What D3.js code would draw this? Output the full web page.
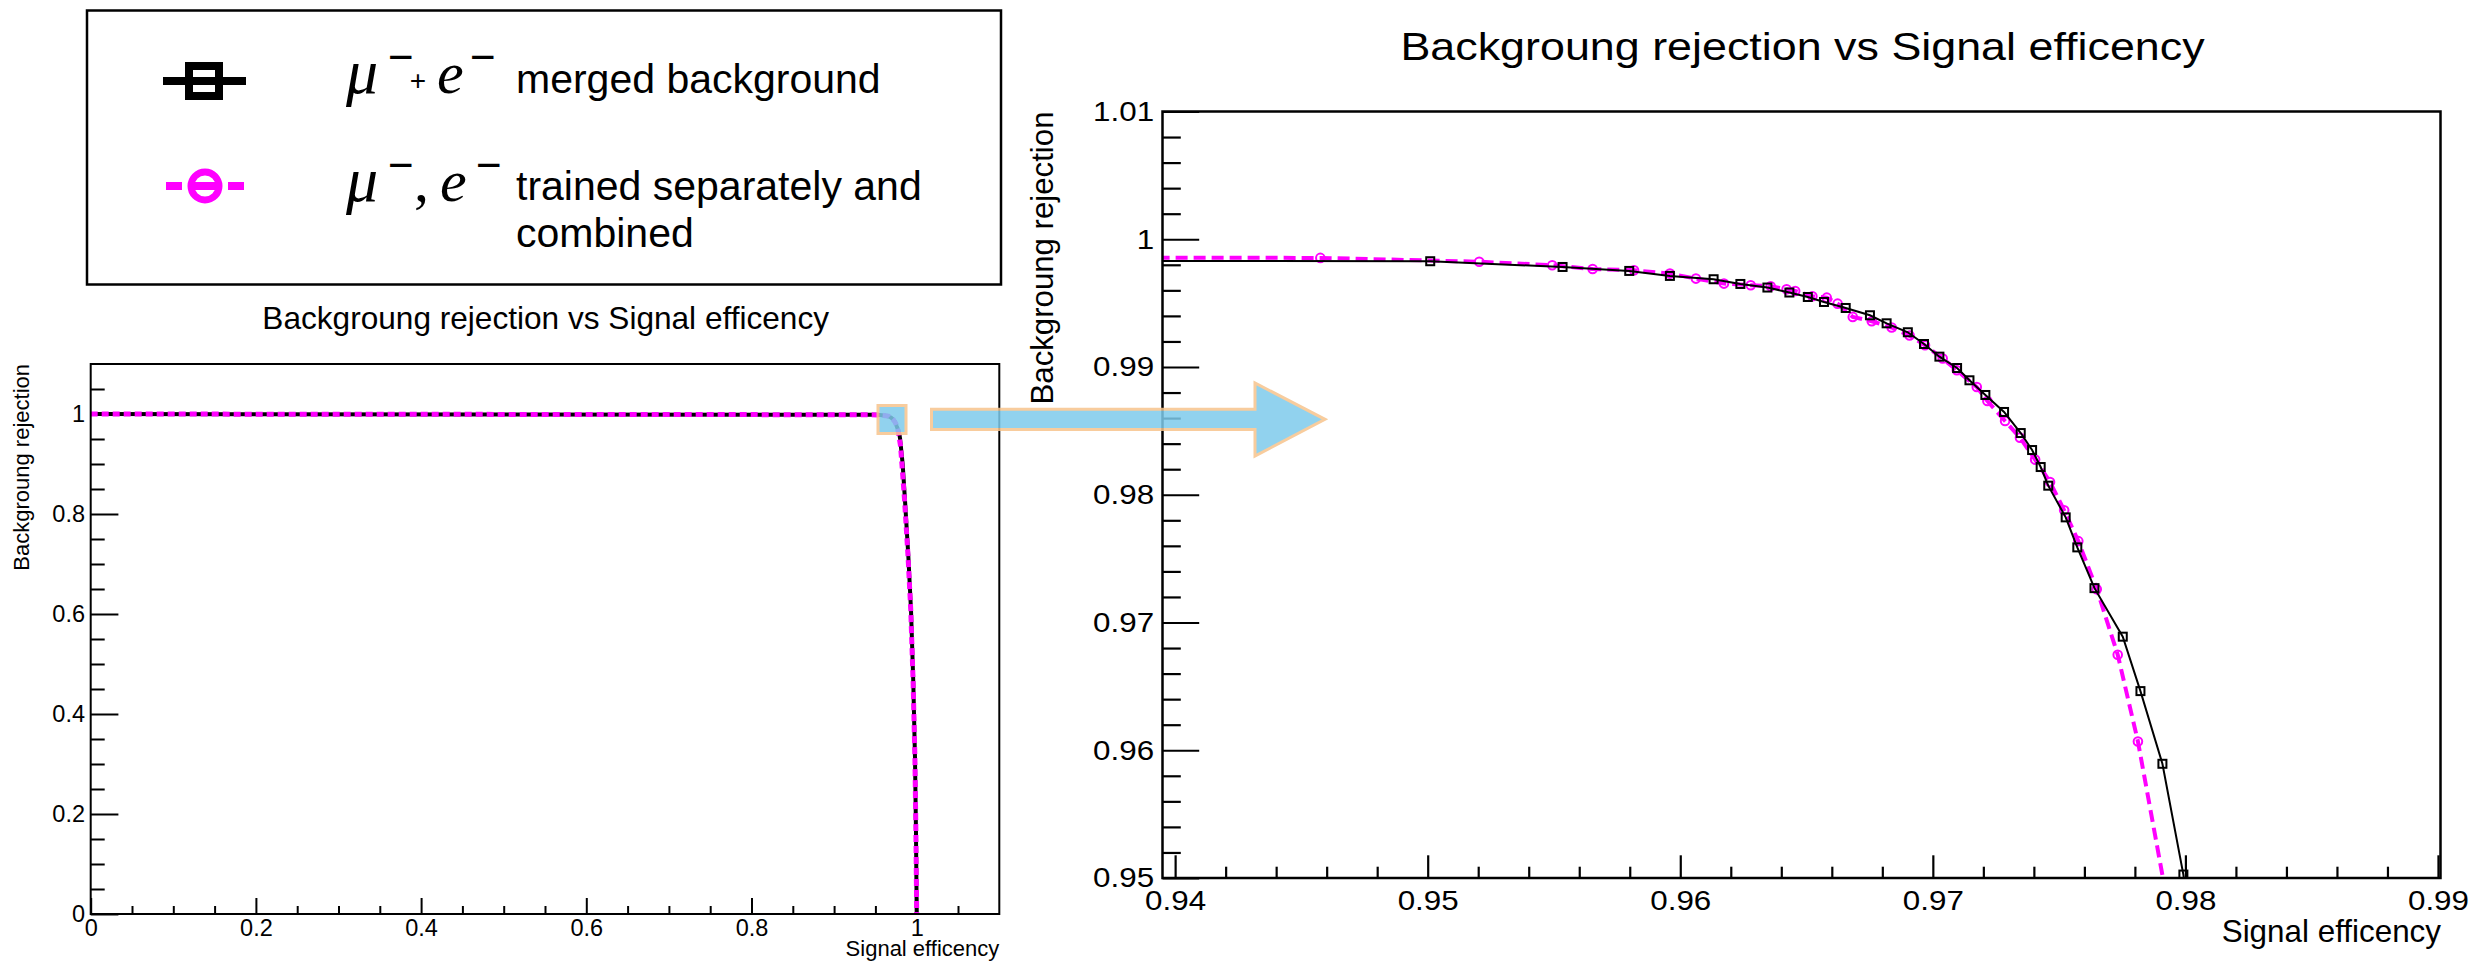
<!DOCTYPE html>
<html><head><meta charset="utf-8">
<script src="https://cdn.jsdelivr.net/npm/d3@7"></script>
<style>
body{margin:0;background:#fff}
svg{display:block}
text{fill:#000}
</style>
</head><body>
<svg id="c" width="2476" height="964" font-family="Liberation Sans, Arial, Helvetica, sans-serif"></svg>
<script>
// ---------------- data ----------------
const mergedEff = [0, 0.9501, 0.95534, 0.95798, 0.95959, 0.96132, 0.96238, 0.96345, 0.96432, 0.96505, 0.96569, 0.96655, 0.96751, 0.96817, 0.96901, 0.96965, 0.97026, 0.97096, 0.97145, 0.97208, 0.97282, 0.97348, 0.97393, 0.97427, 0.97457, 0.97526, 0.97572, 0.9764, 0.97752, 0.97822, 0.97909, 0.97992, 0.983, 0.9858, 0.9898, 0.9931, 0.9959, 0.9979, 0.9991, 1.0];
const mergedRej = [1, 0.99828, 0.99783, 0.99752, 0.99713, 0.99687, 0.9965, 0.99622, 0.99583, 0.99548, 0.99509, 0.99462, 0.99405, 0.99342, 0.99272, 0.9918, 0.99081, 0.98992, 0.98896, 0.98781, 0.98648, 0.98483, 0.9835, 0.98217, 0.98071, 0.97823, 0.97588, 0.97269, 0.96889, 0.96463, 0.95894, 0.95027, 0.900, 0.828, 0.718, 0.608, 0.462, 0.315, 0.169, 0];
const combinedEff = [0, 0.94575, 0.95204, 0.95493, 0.95653, 0.95817, 0.95959, 0.96062, 0.96173, 0.96279, 0.96358, 0.96421, 0.96455, 0.96523, 0.9658, 0.96623, 0.96683, 0.96758, 0.96837, 0.96908, 0.96969, 0.97039, 0.97095, 0.97174, 0.97216, 0.97286, 0.97345, 0.97405, 0.97464, 0.9752, 0.97576, 0.97649, 0.97732, 0.97812, 0.9805, 0.9852, 0.9894, 0.9928, 0.9957, 0.9978, 0.999, 1.0];
const combinedRej = [1, 0.99854, 0.99824, 0.99797, 0.99767, 0.99757, 0.99731, 0.99692, 0.99653, 0.9964, 0.99632, 0.99608, 0.99595, 0.99554, 0.99543, 0.99496, 0.99392, 0.99358, 0.99309, 0.99246, 0.9917, 0.99066, 0.98974, 0.98843, 0.98734, 0.98577, 0.98447, 0.98275, 0.981, 0.97878, 0.97637, 0.97261, 0.96748, 0.96069, 0.935, 0.83, 0.718, 0.608, 0.462, 0.315, 0.169, 0];

const leftXMajor = [0, 0.2, 0.4, 0.6, 0.8, 1];
const leftYMajor = [0, 0.2, 0.4, 0.6, 0.8, 1];
const leftMinor = [0.05,0.1,0.15,0.25,0.3,0.35,0.45,0.5,0.55,0.65,0.7,0.75,0.85,0.9,0.95,1.05];
const rightXMajor = [0.94, 0.95, 0.96, 0.97, 0.98, 0.99];
const rightYMajor = [0.95, 0.96, 0.97, 0.98, 0.99, 1, 1.01];
const rightXMinor = [0.942,0.944,0.946,0.948,0.952,0.954,0.956,0.958,0.962,0.964,0.966,0.968,0.972,0.974,0.976,0.978,0.982,0.984,0.986,0.988];
const rightYMinor = [0.952,0.954,0.956,0.958,0.962,0.964,0.966,0.968,0.972,0.974,0.976,0.978,0.982,0.984,0.986,0.988,0.992,0.994,0.996,0.998,1.002,1.004,1.006,1.008];

const titleText = "Backgroung rejection vs Signal efficency";
const xTitle = "Signal efficency";
const yTitle = "Backgroung rejection";

const merged = mergedEff.map((x,i)=>({x, y: mergedRej[i]}));
const combined = combinedEff.map((x,i)=>({x, y: combinedRej[i]}));

const MAG = "#ff00ff";
const SANS = "Liberation Sans, Arial, Helvetica, sans-serif";
const SERIF = "Liberation Serif, Times New Roman, serif";
const svg = d3.select("#c");
const fmt = d => String(+d.toFixed(3));

// ---------------- left plot ----------------
const xL = d3.scaleLinear().domain([0, 1.1]).range([90.7, 999.3]);
const yL = d3.scaleLinear().domain([0, 1.1]).range([914, 364]);

const defs = svg.append("defs");
defs.append("clipPath").attr("id","clipL").append("rect")
  .attr("x", xL.range()[0]).attr("y", yL.range()[1])
  .attr("width", xL.range()[1]-xL.range()[0]).attr("height", yL.range()[0]-yL.range()[1]);

const gL = svg.append("g");
function styleAxis(g, sw){ g.attr("font-family", SANS); g.select(".domain").remove(); g.selectAll("line").attr("stroke","#000").attr("stroke-width",sw); }

gL.append("g").attr("transform",`translate(0,${yL(0)})`)
  .call(d3.axisBottom(xL).tickValues(leftMinor).tickSize(-8).tickFormat(""))
  .call(g=>styleAxis(g,2));
gL.append("g").attr("transform",`translate(0,${yL(0)})`)
  .call(d3.axisBottom(xL).tickValues(leftXMajor).tickSize(-16).tickPadding(5).tickFormat(fmt))
  .call(g=>styleAxis(g,2))
  .call(g=>g.selectAll("text").attr("font-size",23.5));
gL.append("g").attr("transform",`translate(${xL(0)},0)`)
  .call(d3.axisLeft(yL).tickValues(leftMinor).tickSize(-14).tickFormat(""))
  .call(g=>styleAxis(g,2));
gL.append("g").attr("transform",`translate(${xL(0)},0)`)
  .call(d3.axisLeft(yL).tickValues(leftYMajor).tickSize(-27.7).tickPadding(5.7).tickFormat(fmt))
  .call(g=>styleAxis(g,2))
  .call(g=>g.selectAll("text").attr("font-size",23.5));

const lineL = d3.line().x(d=>xL(d.x)).y(d=>yL(d.y));
const cL = gL.append("g").attr("clip-path","url(#clipL)");
cL.append("path").datum(merged).attr("d", lineL).attr("fill","none").attr("stroke","#000").attr("stroke-width",4).attr("stroke-linejoin","round");
cL.append("path").datum(combined).attr("d", lineL).attr("fill","none").attr("stroke",MAG).attr("stroke-width",5).attr("stroke-dasharray","7,4");

gL.append("rect").attr("x", xL.range()[0]).attr("y", yL.range()[1])
  .attr("width", xL.range()[1]-xL.range()[0]).attr("height", yL.range()[0]-yL.range()[1])
  .attr("fill","none").attr("stroke","#000").attr("stroke-width",2);

gL.append("text").attr("x",545.7).attr("y",329.3).attr("text-anchor","middle").attr("font-size",31.6).text(titleText);
gL.append("text").attr("x",xL.range()[1]).attr("y",956).attr("text-anchor","end").attr("font-size",22).text(xTitle);
gL.append("text").attr("transform",`translate(28.7,${yL.range()[1]}) rotate(-90)`).attr("text-anchor","end").attr("font-size",22).text(yTitle);

// ---------------- right plot ----------------
const xR = d3.scaleLinear().domain([0.9395, 0.9901]).range([1162.5, 2440.5]);
const yR = d3.scaleLinear().domain([0.95, 1.01]).range([878, 111.5]);
defs.append("clipPath").attr("id","clipR").append("rect")
  .attr("x", xR.range()[0]).attr("y", yR.range()[1])
  .attr("width", xR.range()[1]-xR.range()[0]).attr("height", yR.range()[0]-yR.range()[1]);

const gR = svg.append("g");
gR.append("g").attr("transform",`translate(0,${yR(0.95)})`)
  .call(d3.axisBottom(xR).tickValues(rightXMinor).tickSize(-11.3).tickFormat(""))
  .call(g=>styleAxis(g,2.2));
gR.append("g").attr("transform",`translate(0,${yR(0.95)})`)
  .call(d3.axisBottom(xR).tickValues(rightXMajor).tickSize(-22.7).tickPadding(12).tickFormat(fmt))
  .call(g=>styleAxis(g,2.2))
  .call(g=>g.selectAll("text").attr("font-size",28).attr("transform","scale(1.12,1)"));
gR.append("g").attr("transform",`translate(${xR.range()[0]},0)`)
  .call(d3.axisLeft(yR).tickValues(rightYMinor).tickSize(-18.3).tickFormat(""))
  .call(g=>styleAxis(g,2.2));
gR.append("g").attr("transform",`translate(${xR.range()[0]},0)`)
  .call(d3.axisLeft(yR).tickValues(rightYMajor).tickSize(-36.7).tickPadding(7.5).tickFormat(fmt))
  .call(g=>styleAxis(g,2.2))
  .call(g=>g.selectAll("text").attr("font-size",28).attr("transform","scale(1.12,1)"));

const lineR = d3.line().x(d=>xR(d.x)).y(d=>yR(d.y));
const cR = gR.append("g").attr("clip-path","url(#clipR)");
cR.append("path").datum(combined).attr("d", lineR).attr("fill","none").attr("stroke",MAG).attr("stroke-width",4).attr("stroke-dasharray","12,6");
cR.selectAll("circle.cm").data(combined).join("circle").attr("class","cm")
  .attr("cx",d=>xR(d.x)).attr("cy",d=>yR(d.y)).attr("r",4.3)
  .attr("fill","none").attr("stroke",MAG).attr("stroke-width",2);
cR.append("path").datum(merged).attr("d", lineR).attr("fill","none").attr("stroke","#000").attr("stroke-width",2);
cR.selectAll("rect.sq").data(merged).join("rect").attr("class","sq")
  .attr("x",d=>xR(d.x)-4).attr("y",d=>yR(d.y)-4).attr("width",8).attr("height",8)
  .attr("fill","none").attr("stroke","#000").attr("stroke-width",2);

gR.append("rect").attr("x", xR.range()[0]).attr("y", yR.range()[1])
  .attr("width", xR.range()[1]-xR.range()[0]).attr("height", yR.range()[0]-yR.range()[1])
  .attr("fill","none").attr("stroke","#000").attr("stroke-width",2.5);

gR.append("text").attr("transform","translate(1802.5,60) scale(1.15,1)").attr("text-anchor","middle").attr("font-size",39).text(titleText);
gR.append("text").attr("x",2441).attr("y",942).attr("text-anchor","end").attr("font-size",31.4).text(xTitle);
gR.append("text").attr("transform",`translate(1053,${yR.range()[1]}) rotate(-90)`).attr("text-anchor","end").attr("font-size",31.2).text(yTitle);

// ---------------- zoom highlight + arrow ----------------
const ann = svg.append("g").attr("opacity",0.85);
ann.append("rect").attr("x",878).attr("y",405.5).attr("width",28).attr("height",28)
  .attr("fill","#7ecbec").attr("stroke","#f7c48c").attr("stroke-width",3);
ann.append("path").attr("d","M931.5,409.2 L1255,409.2 L1255,383 L1325,419.3 L1255,456 L1255,429.5 L931.5,429.5 Z")
  .attr("fill","#7ecbec").attr("stroke","#f7c48c").attr("stroke-width",3).attr("stroke-linejoin","miter");

// ---------------- legend ----------------
const lg = svg.append("g");
lg.append("rect").attr("x",87).attr("y",10.5).attr("width",914).attr("height",274)
  .attr("fill","#fff").attr("stroke","#000").attr("stroke-width",2.5);
lg.append("line").attr("x1",163).attr("x2",246).attr("y1",81).attr("y2",81).attr("stroke","#000").attr("stroke-width",8);
lg.append("rect").attr("x",189).attr("y",66).attr("width",30).attr("height",30)
  .attr("fill","none").attr("stroke","#000").attr("stroke-width",8);
lg.append("line").attr("x1",166).attr("x2",244).attr("y1",186).attr("y2",186)
  .attr("stroke",MAG).attr("stroke-width",8).attr("stroke-dasharray","16,8,30,8,16");
lg.append("circle").attr("cx",205).attr("cy",186).attr("r",14)
  .attr("fill","none").attr("stroke",MAG).attr("stroke-width",7);

function math(x,y,t,size,italic){
  lg.append("text").attr("x",x).attr("y",y).attr("font-family",SERIF)
    .attr("font-style",italic?"italic":"normal").attr("font-size",size).text(t);
}
function sans(x,y,t,size,anchor){
  lg.append("text").attr("x",x).attr("y",y).attr("font-family",SANS).attr("font-size",size).attr("text-anchor",anchor||"start").text(t);
}
// entry 1
math(346,93,"μ",64,true);
sans(388,71.5,"−",44);
sans(418,90,"+",28,"middle");
math(437,93,"e",60,true);
sans(470,71.5,"−",44);
sans(516,93,"merged background",41);
// entry 2
math(346,201,"μ",64,true);
sans(388,180,"−",44);
math(414,201,",",60,false);
math(440,201,"e",60,true);
sans(476,180,"−",44);
sans(516,200,"trained separately and",41);
sans(516,247,"combined",41);
</script>
</body></html>
